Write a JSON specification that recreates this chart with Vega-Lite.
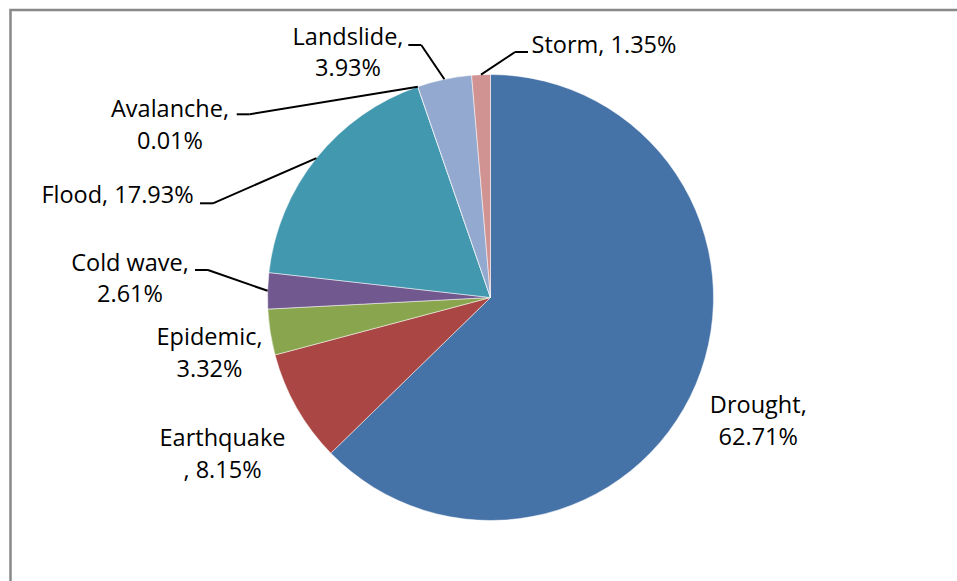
{
  "$schema": "https://vega.github.io/schema/vega-lite/v6.json",
  "width": 960,
  "height": 575,
  "autosize": {"type": "none"},
  "padding": {"left": 10.5, "top": 10, "right": 0, "bottom": 0},
  "background": "#ffffff",
  "config": {
    "view": {"stroke": "#888888", "strokeWidth": 2.5},
    "text": {"font": "Open Sans", "fontSize": 23.5, "fill": "#000000"}
  },
  "data": {
    "values": [
      {"cause": "Drought", "share": 62.71},
      {"cause": "Earthquake", "share": 8.15},
      {"cause": "Epidemic", "share": 3.32},
      {"cause": "Cold wave", "share": 2.61},
      {"cause": "Flood", "share": 17.93},
      {"cause": "Avalanche", "share": 0.01},
      {"cause": "Landslide", "share": 3.93},
      {"cause": "Storm", "share": 1.35}
    ]
  },
  "transform": [
    {"calculate": "indexof(['Drought','Earthquake','Epidemic','Cold wave','Flood','Avalanche','Landslide','Storm'], datum.cause)", "as": "i"},
    {"window": [{"op": "sum", "field": "share", "as": "cum"}], "sort": [{"field": "i"}], "frame": [null, 0]},
    {"joinaggregate": [{"op": "sum", "field": "share", "as": "total"}]},
    {"calculate": "(datum.cum - datum.share) / datum.total", "as": "t0"},
    {"calculate": "datum.cum / datum.total", "as": "t1"},
    {"calculate": "2 * PI * (datum.cum - datum.share / 2) / datum.total", "as": "mid"},
    {"calculate": "sin(datum.mid)", "as": "ex"},
    {"calculate": "cos(datum.mid)", "as": "ey"},
    {"calculate": "format(datum.share, '.2f') + '%'", "as": "pct"},
    {"calculate": "datum.cause == 'Earthquake' ? datum.cause + '\\n, ' + datum.pct : (datum.cause == 'Storm' || datum.cause == 'Flood') ? datum.cause + ', ' + datum.pct : datum.cause + ',\\n' + datum.pct", "as": "label"},
    {"calculate": "[1.2009, -1.2018, -1.2601, -1.6166, -1.6726, -1.4372, -0.6390, 0.5090][datum.i]", "as": "lx"},
    {"calculate": "[-0.5193, -0.6659, -0.2130, 0.1202, 0.4238, 0.8081, 1.1323, 1.0964][datum.i]", "as": "ly"},
    {"calculate": "[null, null, null, -1.3251, -1.3027, -1.1381, -0.3686, 0.1682][datum.i]", "as": "sx"},
    {"calculate": "[null, null, null, 0.1233, 0.4224, 0.8215, 1.1323, 1.1009][datum.i]", "as": "sy"},
    {"calculate": "isValid(datum.sx) ? datum.sx + (datum.ex > datum.sx ? 0.058 : -0.058) : null", "as": "kx"}
  ],
  "layer": [
    {
      "mark": {"type": "arc", "outerRadius": 223, "stroke": "#ffffff", "strokeWidth": 0.5},
      "encoding": {
        "theta": {"field": "t0", "type": "quantitative", "stack": null, "scale": {"domain": [0, 1]}},
        "theta2": {"field": "t1"},
        "color": {
          "field": "cause",
          "type": "nominal",
          "legend": null,
          "scale": {
            "domain": ["Drought", "Earthquake", "Epidemic", "Cold wave", "Flood", "Avalanche", "Landslide", "Storm"],
            "range": ["#4572A7", "#AA4643", "#89A54E", "#71588F", "#4198AF", "#DB843D", "#93A9CF", "#D19392"]
          }
        }
      }
    },
    {
      "transform": [{"filter": "isValid(datum.sx)"}],
      "mark": {"type": "rule", "color": "#000000", "strokeWidth": 2},
      "encoding": {
        "x": {"field": "sx", "type": "quantitative", "axis": null, "scale": {"domain": [-2.1525, 2.1525], "nice": false, "zero": false}},
        "y": {"field": "sy", "type": "quantitative", "axis": null, "scale": {"domain": [-1.2892, 1.2892], "nice": false, "zero": false}},
        "x2": {"field": "kx"},
        "y2": {"field": "sy"}
      }
    },
    {
      "transform": [{"filter": "isValid(datum.sx)"}],
      "mark": {"type": "rule", "color": "#000000", "strokeWidth": 2},
      "encoding": {
        "x": {"field": "kx", "type": "quantitative", "axis": null, "scale": {"domain": [-2.1525, 2.1525], "nice": false, "zero": false}},
        "y": {"field": "sy", "type": "quantitative", "axis": null, "scale": {"domain": [-1.2892, 1.2892], "nice": false, "zero": false}},
        "x2": {"field": "ex"},
        "y2": {"field": "ey"}
      }
    },
    {
      "mark": {"type": "text", "align": "center", "baseline": "alphabetic", "lineBreak": "\n", "lineHeight": 31.5},
      "encoding": {
        "x": {"field": "lx", "type": "quantitative", "axis": null, "scale": {"domain": [-2.1525, 2.1525], "nice": false, "zero": false}},
        "y": {"field": "ly", "type": "quantitative", "axis": null, "scale": {"domain": [-1.2892, 1.2892], "nice": false, "zero": false}},
        "text": {"field": "label", "type": "nominal"}
      }
    }
  ]
}
